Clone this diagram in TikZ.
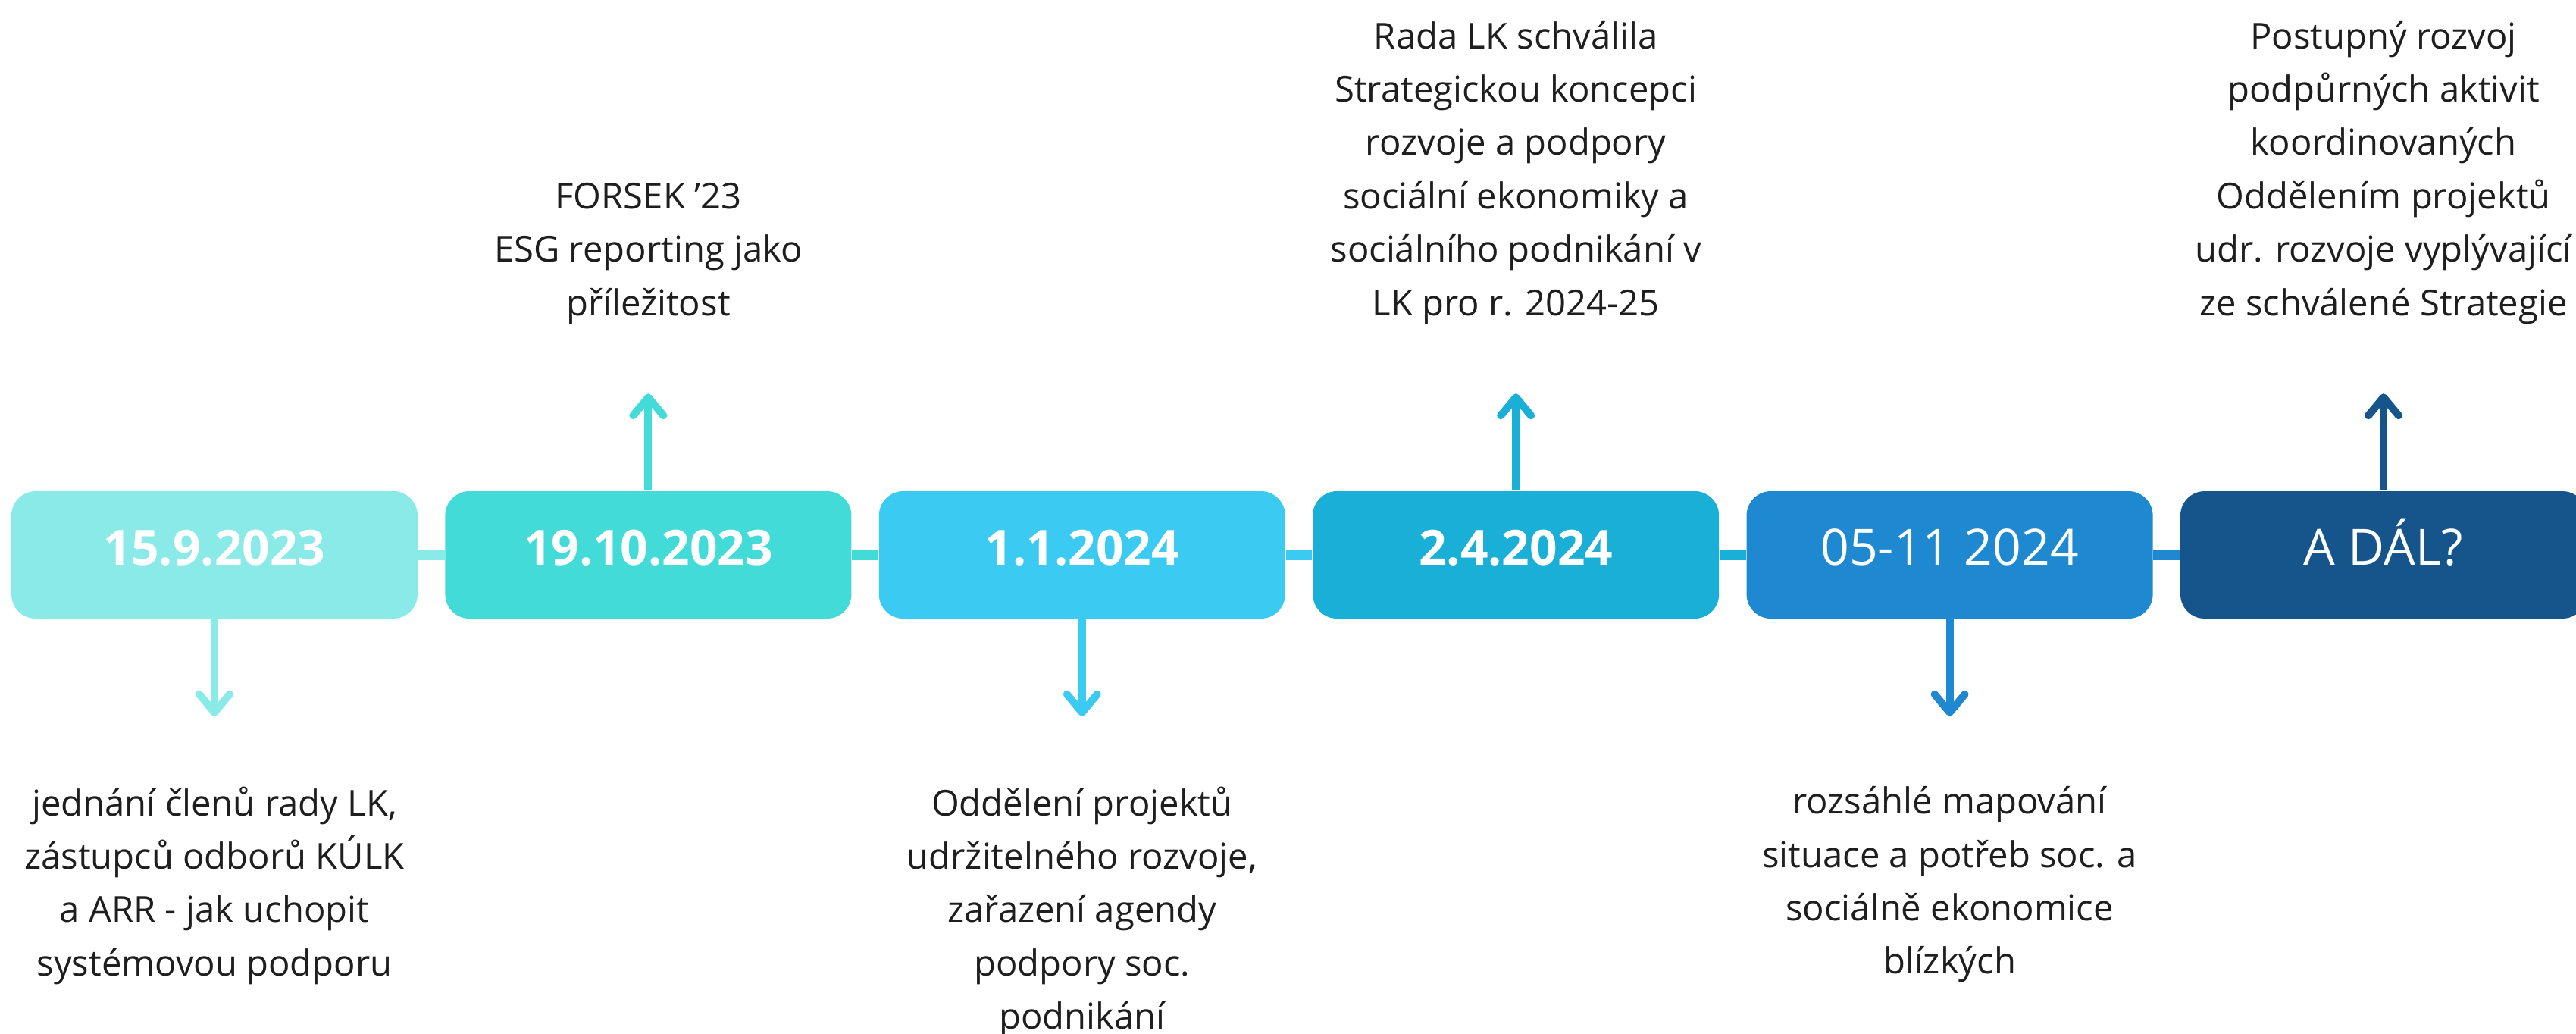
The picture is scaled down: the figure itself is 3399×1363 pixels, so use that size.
\documentclass[tikz,border=0pt]{standalone}
\usepackage{fontspec}
\setmainfont{Open Sans}
\usetikzlibrary{arrows.meta}
\usetikzlibrary{positioning}
\definecolor{c1}{HTML}{8AEAE8}
\definecolor{c2}{HTML}{42DBD7}
\definecolor{c3}{HTML}{3BCAF1}
\definecolor{c4}{HTML}{1AAFD7}
\definecolor{c5}{HTML}{1E88D0}
\definecolor{c6}{HTML}{16558B}
\definecolor{ink}{HTML}{1E1E1E}

\begin{document}
\begin{tikzpicture}
	[
	x=0.25pt, y=-0.25pt,
  > = {Straight Barb[round,length=6pt,width=10pt]},
  date/.style = {rounded corners=8pt,minimum width=134pt,minimum height=42pt,inner sep=0pt,text=white,font=\fontsize{16}{19}\selectfont\bfseries,text height=11.5pt,text depth=5pt},
  plain date/.style = {date,font=\fontsize{16.5}{19}\selectfont},
  note/.style = {align=center,inner sep=0pt,text=ink,font=\fontsize{11.8}{17.6}\selectfont,execute at begin node=\strut,execute at end node=\strut},
  link/.style = {line width=3.25pt},
  pin/.style = {->,line width=2.5pt}
  ]
	\useasboundingbox (0,0) rectangle (3399,1363);

	\node[date,fill=c1] (d1) at (283,732) {15.9.2023};
	\node[date,fill=c2,right=8.7pt of d1] (d2) {19.10.2023};
	\node[date,fill=c3,right=8.7pt of d2] (d3) {1.1.2024};
	\node[date,fill=c4,right=8.7pt of d3] (d4) {2.4.2024};
	\node[plain date,fill=c5,right=8.7pt of d4] (d5) {05-11 2024};
	\node[plain date,fill=c6,right=8.7pt of d5] (d6) {A DÁL?};

		\draw[link,c1] (d1) to (d2);
		\draw[link,c2] (d2) to (d3);
		\draw[link,c3] (d3) to (d4);
		\draw[link,c4] (d4) to (d5);
		\draw[link,c5] (d5) to (d6);

	\coordinate[below=32pt of d1] (e1);
	\coordinate[above=32pt of d2] (e2);
	\coordinate[below=32pt of d3] (e3);
	\coordinate[above=32pt of d4] (e4);
	\coordinate[below=32pt of d5] (e5);
	\coordinate[above=32pt of d6] (e6);

		\draw[pin,c1] (d1) to (e1);
		\draw[pin,c2] (d2) to (e2);
		\draw[pin,c3] (d3) to (e3);
		\draw[pin,c4] (d4) to (e4);
		\draw[pin,c5] (d5) to (e5);
		\draw[pin,c6] (d6) to (e6);

	\node[note,below=23pt of e1] (n1) {jednání členů rady LK,\\zástupců odborů KÚLK\\a ARR - jak uchopit\\systémovou podporu};
	\node[note,above=20.3pt of e2] (n2) {FORSEK ’23\\ESG reporting jako\\příležitost};
	\node[note,below=23pt of e3] (n3) {Oddělení projektů\\udržitelného rozvoje,\\zařazení agendy\\podpory soc.\\podnikání};
	\node[note,above=20.3pt of e4] (n4) {Rada LK schválila\\Strategickou koncepci\\rozvoje a podpory\\sociální ekonomiky a\\sociálního podnikání v\\LK pro r. 2024-25};
	\node[note,below=23pt of e5] (n5) {rozsáhlé mapování\\situace a potřeb soc. a\\sociálně ekonomice\\blízkých};
	\node[note,above=20.3pt of e6] (n6) {Postupný rozvoj\\podpůrných aktivit\\koordinovaných\\Oddělením projektů\\udr. rozvoje vyplývající\\ze schválené Strategie};
	\end{tikzpicture}
\end{document}
